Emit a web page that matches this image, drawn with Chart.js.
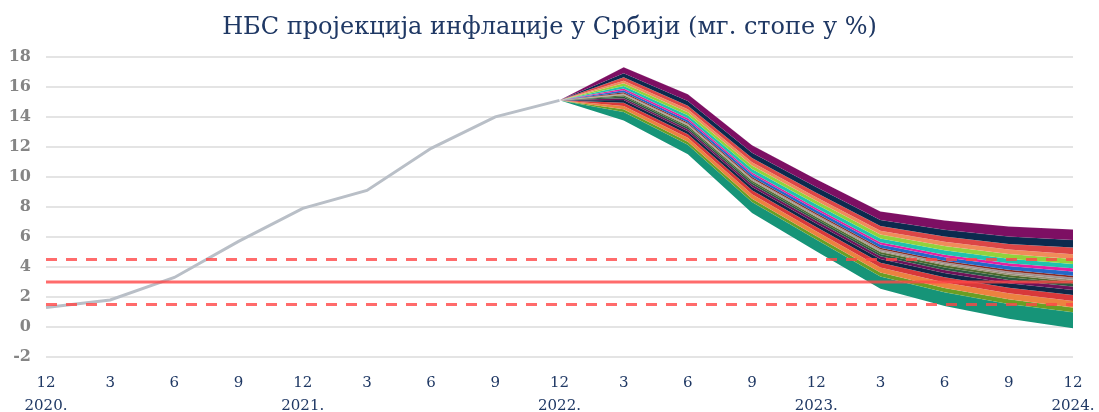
<!DOCTYPE html>
<html>
<head>
<meta charset="utf-8">
<script src="https://cdn.jsdelivr.net/npm/chart.js@4.4.1/dist/chart.umd.min.js"></script>
<style>
  html, body { margin: 0; padding: 0; background: #ffffff; }
  #wrap { width: 1099px; height: 412px; position: relative; }
</style>
</head>
<body>
<div id="wrap"><canvas id="fanChart"></canvas></div>
<script>
// Chart data — quarters from Dec 2020 to Dec 2024
const monthLabels = ['12', '3', '6', '9', '12', '3', '6', '9', '12', '3', '6', '9', '12', '3', '6', '9', '12'];
const yearLabels = ['2020.', '', '', '', '2021.', '', '', '', '2022.', '', '', '', '2023.', '', '', '', '2024.'];

// actual y-o-y inflation (%)
const actualInflation = [1.3, 1.8, 3.3, 5.7, 7.9, 9.1, 11.9, 14.0, 15.1, null, null, null, null, null, null, null, null];

// target band
const targetCentre = [3, 3, 3, 3, 3, 3, 3, 3, 3, 3, 3, 3, 3, 3, 3, 3, 3];
const targetUpper = [4.5, 4.5, 4.5, 4.5, 4.5, 4.5, 4.5, 4.5, 4.5, 4.5, 4.5, 4.5, 4.5, 4.5, 4.5, 4.5, 4.5];
const targetLower = [1.5, 1.5, 1.5, 1.5, 1.5, 1.5, 1.5, 1.5, 1.5, 1.5, 1.5, 1.5, 1.5, 1.5, 1.5, 1.5, 1.5];

// projection fan — band edges from top to bottom, Dec 2022 .. Dec 2024
const fanB00 = [15.1, 17.30, 15.50, 12.10, 9.85, 7.70, 7.10, 6.70, 6.50];
const fanB01 = [15.1, 16.91, 15.06, 11.61, 9.32, 7.13, 6.47, 6.02, 5.80];
const fanB02 = [15.1, 16.63, 14.74, 11.25, 8.94, 6.72, 6.02, 5.53, 5.29];
const fanB03 = [15.1, 16.41, 14.50, 10.98, 8.65, 6.41, 5.68, 5.16, 4.85];
const fanB04 = [15.1, 16.24, 14.30, 10.75, 8.41, 6.16, 5.39, 4.86, 4.53];
const fanB05 = [15.1, 16.06, 14.10, 10.53, 8.17, 5.90, 5.11, 4.55, 4.20];
const fanB06 = [15.1, 15.88, 13.90, 10.30, 7.93, 5.64, 4.82, 4.24, 3.91];
const fanB07 = [15.1, 15.77, 13.78, 10.17, 7.79, 5.49, 4.65, 4.06, 3.69];
const fanB08 = [15.1, 15.63, 13.62, 9.99, 7.59, 5.28, 4.42, 3.81, 3.42];
const fanB09 = [15.1, 15.56, 13.54, 9.90, 7.50, 5.18, 4.31, 3.69, 3.30];
const fanB10 = [15.1, 15.49, 13.46, 9.81, 7.40, 5.07, 4.19, 3.56, 3.15];
const fanB11 = [15.1, 15.44, 13.40, 9.74, 7.33, 5.00, 4.11, 3.47, 3.02];
const fanB12 = [15.1, 15.35, 13.30, 9.63, 7.21, 4.87, 3.97, 3.32, 2.91];
const fanB13 = [15.1, 15.24, 13.18, 9.49, 7.07, 4.71, 3.79, 3.13, 2.69];
const fanB14 = [15.1, 15.12, 13.04, 9.33, 6.90, 4.53, 3.59, 2.92, 2.47];
const fanB15 = [15.1, 14.94, 12.84, 9.11, 6.66, 4.28, 3.31, 2.61, 2.13];
const fanB16 = [15.1, 14.73, 12.60, 8.84, 6.37, 3.97, 2.97, 2.24, 1.73];
const fanB17 = [15.1, 14.50, 12.34, 8.55, 6.06, 3.63, 2.60, 1.84, 1.29];
const fanB18 = [15.1, 14.32, 12.14, 8.32, 5.82, 3.37, 2.31, 1.53, 0.98];
const fanB19 = [15.1, 13.75, 11.50, 7.60, 5.05, 2.55, 1.40, 0.55, -0.08];

const fanEdges = [fanB00, fanB01, fanB02, fanB03, fanB04, fanB05, fanB06, fanB07, fanB08, fanB09,
                  fanB10, fanB11, fanB12, fanB13, fanB14, fanB15, fanB16, fanB17, fanB18, fanB19];

const fanColors = ['#7d0f63', '#0c2a4e', '#dc4646', '#f08c5a', '#92d23c', '#1fc3ae', '#e61ea0', '#2468c8',
                   '#8a2a20', '#a09290', '#9a8c70', '#4d6a2c', '#2a5a40', '#6e1258', '#102848', '#d8383a',
                   '#ec8240', '#6a9e24', '#169478'];

const serif = "'DejaVu Serif', 'Liberation Serif', serif";
const pastPad = [null, null, null, null, null, null, null, null];

const datasets = [
    { data: targetUpper, borderColor: 'rgba(255, 70, 70, 0.8)', borderWidth: 3, borderDash: [11, 9], fill: false },
    { data: targetCentre, borderColor: 'rgba(255, 70, 70, 0.8)', borderWidth: 3, fill: false },
    { data: targetLower, borderColor: 'rgba(255, 70, 70, 0.8)', borderWidth: 3, borderDash: [11, 9], fill: false },
    { data: actualInflation, borderColor: '#b9bfc7', borderWidth: 3, fill: false }
];

const fanStart = datasets.length;
fanEdges.forEach((edge, i) => {
    datasets.push({
        data: pastPad.concat(edge),
        borderColor: 'rgba(255, 255, 255, 0.18)',
        borderWidth: 0.6,
        backgroundColor: fanColors[i] || 'transparent',
        fill: i < fanColors.length ? fanStart + i + 1 : false
    });
});

const labels = monthLabels.map((m, i) => [m, yearLabels[i]]);

new Chart(document.getElementById('fanChart'), {
    type: 'line',
    data: { labels, datasets },
    options: {
        responsive: true,
        maintainAspectRatio: false,
        animation: false,
        elements: { point: { radius: 0 }, line: { tension: 0 } },
        layout: { padding: 0 },
        scales: {
            x: {
                offset: false,
                grid: { display: false, drawTicks: false },
                border: { display: false },
                ticks: {
                    autoSkip: false, maxRotation: 0, padding: 15,
                    color: '#1f3864',
                    font: { family: serif, size: 15, lineHeight: 1.53 }
                },
                afterFit: (scale) => {
                    scale.height = 55;
                    scale.paddingLeft = 0;
                    scale.paddingRight = 26;
                }
            },
            y: {
                min: -2, max: 18,
                grid: { color: '#e4e4e4', lineWidth: 2, drawTicks: false },
                border: { display: false },
                ticks: {
                    stepSize: 2, padding: 15,
                    color: '#858585',
                    font: { family: serif, size: 16, weight: 'bold' }
                },
                afterFit: (scale) => { scale.width = 46; }
            }
        },
        plugins: {
            legend: { display: false },
            tooltip: { enabled: false },
            title: {
                display: true,
                text: 'НБС пројекција инфлације у Србији (мг. стопе у %)',
                color: '#1f3864',
                font: { family: serif, size: 24, weight: 'normal', lineHeight: 1.2 },
                padding: { top: 13, bottom: 15 }
            }
        }
    }
});
</script>
</body>
</html>
